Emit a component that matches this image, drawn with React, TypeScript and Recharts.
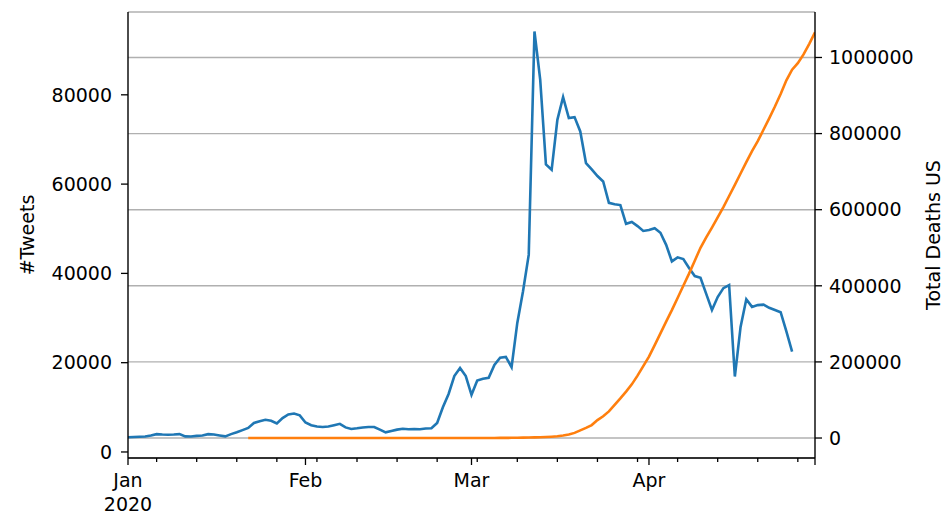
import React from 'react';
import { LineChart, Line, XAxis, YAxis, CartesianGrid, Label } from 'recharts';

// Day index 0 = 2020-01-01
const tweetsStartDay = 0;
const tweets: number[] = [
  3300, 3350, 3400, 3450, 3700, 4000, 3900, 3850, 3900, 4000,
  3500, 3450, 3600, 3700, 4000, 3900, 3700, 3500, 4000, 4400,
  4900, 5400, 6500, 6900, 7200, 7000, 6400, 7600, 8400, 8600,
  8200, 6600, 6000, 5700, 5600, 5700, 6000, 6300, 5500, 5150,
  5300, 5500, 5600, 5600, 5000, 4400, 4700, 5000, 5200, 5100,
  5150, 5100, 5250, 5300, 6500, 10000, 13000, 17000, 18800, 17000,
  12800, 16000, 16400, 16600, 19500, 21100, 21300, 19000, 28900, 36000,
  44200, 94200, 83400, 64400, 63200, 74400, 79500, 74800, 75000, 71800,
  64700, 63300, 61800, 60600, 55800, 55500, 55300, 51100, 51500, 50600,
  49500, 49700, 50100, 49100, 46400, 42700, 43600, 43200, 41200, 39400,
  39000, 35400, 31800, 34700, 36700, 37400, 16900, 28000, 34200, 32500,
  32900, 33000, 32300, 31800, 31300, 27000, 22500,
];

const deathsStartDay = 21;
const deaths: number[] = [
  1, 1, 2, 2, 5, 5, 5, 5, 5, 6,
  7, 8, 11, 11, 11, 11, 11, 11, 12, 12,
  13, 13, 13, 13, 13, 13, 13, 15, 15, 15,
  35, 35, 35, 53, 53, 59, 60, 62, 70, 76,
  101, 122, 153, 221, 278, 417, 537, 605, 959, 1300,
  1700, 2200, 2700, 3500, 4600, 6400, 9000, 13500, 20000, 26500,
  34000, 47000, 57000, 70000, 87000, 104000, 122000, 141000, 164000, 189000,
  214000, 244000, 275000, 306000, 336000, 368000, 400000, 432000, 466000, 500000,
  527000, 553000, 580000, 607000, 636000, 665000, 695000, 725000, 754000, 780000,
  810000, 840000, 871000, 904000, 940000, 968000, 985000, 1008000, 1036000, 1066000,
];

const lastDay = 120;
const majorTicks: number[] = [0, 31, 60, 91, 120];
const majorLabels: string[] = ['Jan\n2020', 'Feb', 'Mar', 'Apr', ''];
const minorTicks: number[] = [5, 12, 19, 26, 33, 40, 47, 54, 61, 68, 75, 82, 89, 96, 103, 110, 117];
const leftTicks: number[] = [0, 20000, 40000, 60000, 80000];
const rightTicks: number[] = [0, 200000, 400000, 600000, 800000, 1000000];

const rows = Array.from({ length: lastDay + 1 }, (_, d) => ({
  day: d,
  tweets: d >= tweetsStartDay && d - tweetsStartDay < tweets.length ? tweets[d - tweetsStartDay] : undefined,
  deaths: d >= deathsStartDay && d - deathsStartDay < deaths.length ? deaths[d - deathsStartDay] : undefined,
}));

const allXTicks = [...majorTicks, ...minorTicks].sort((a, b) => a - b);

const FONT = "'DejaVu Sans', sans-serif";

const XTick = (props: any) => {
  const { x, y, payload } = props;
  const v = payload.value;
  const mi = majorTicks.indexOf(v);
  const isMajor = mi >= 0;
  const label = isMajor ? majorLabels[mi] : '';
  return (
    <g>
      <line x1={x} x2={x} y1={y} y2={y + (isMajor ? 7 : 4)} stroke="#000" strokeWidth={1.3} />
      {label
        ? label.split('\n').map((t, i) => (
            <text key={i} x={x} y={y + 29 + i * 23.5} textAnchor="middle" fontSize={19} fontFamily={FONT} fill="#000">
              {t}
            </text>
          ))
        : null}
    </g>
  );
};

const LeftLabel = (p: any) => {
  const vb = p.viewBox;
  const cx = vb.x + 27;
  const cy = vb.y + vb.height / 2;
  return (
    <text x={cx} y={cy} transform={`rotate(-90, ${cx}, ${cy})`} textAnchor="middle" dominantBaseline="central" fontSize={19} fontFamily={FONT} fill="#000">
      #Tweets
    </text>
  );
};

const RightLabel = (p: any) => {
  const vb = p.viewBox;
  const cx = vb.x + 118;
  const cy = vb.y + vb.height / 2;
  return (
    <text x={cx} y={cy} transform={`rotate(-90, ${cx}, ${cy})`} textAnchor="middle" dominantBaseline="central" fontSize={19} fontFamily={FONT} fill="#000">
      Total Deaths US
    </text>
  );
};

export default function App() {
  return (
    <div style={{ position: 'absolute', left: 0, top: 0, background: '#fff', fontFamily: FONT }}>
      <LineChart width={947} height={518} data={rows} margin={{ top: 12, right: 0, bottom: 0, left: 0 }}>
        <CartesianGrid xAxisId="main" yAxisId="right" vertical={false} stroke="#b0b0b0" strokeWidth={1.4} />
        <XAxis
          xAxisId="main"
          dataKey="day"
          type="number"
          domain={[0, lastDay]}
          allowDataOverflow
          ticks={allXTicks}
          interval={0}
          tickSize={0}
          tickMargin={0}
          tickLine={false}
          tick={<XTick />}
          height={60}
          axisLine={{ stroke: '#000', strokeWidth: 1.4 }}
        />
        <XAxis
          xAxisId="top"
          dataKey="day"
          type="number"
          orientation="top"
          domain={[0, lastDay]}
          allowDataOverflow
          tick={false}
          tickLine={false}
          height={0}
          axisLine={{ stroke: '#000', strokeWidth: 1.4 }}
        />
        <YAxis
          yAxisId="left"
          orientation="left"
          type="number"
          domain={[-1350, 98550]}
          allowDataOverflow
          ticks={leftTicks}
          interval={0}
          width={128}
          tickSize={7}
          tickMargin={9}
          tick={{ fontSize: 19, fill: '#000', fontFamily: FONT }}
          tickLine={{ stroke: '#000', strokeWidth: 1.3 }}
          axisLine={{ stroke: '#000', strokeWidth: 1.4 }}
        >
          <Label content={<LeftLabel />} />
        </YAxis>
        <YAxis
          yAxisId="right"
          orientation="right"
          type="number"
          domain={[-52500, 1119500]}
          allowDataOverflow
          ticks={rightTicks}
          interval={0}
          width={132}
          tickSize={7}
          tickMargin={7}
          tick={{ fontSize: 19, fill: '#000', fontFamily: FONT }}
          tickLine={{ stroke: '#000', strokeWidth: 1.3 }}
          axisLine={{ stroke: '#000', strokeWidth: 1.4 }}
        >
          <Label content={<RightLabel />} />
        </YAxis>
        <Line
          xAxisId="main"
          yAxisId="left"
          type="linear"
          dataKey="tweets"
          stroke="#1f77b4"
          strokeWidth={2.6}
          dot={false}
          activeDot={false}
          isAnimationActive={false}
        />
        <Line
          xAxisId="top"
          yAxisId="right"
          type="linear"
          dataKey="deaths"
          stroke="#ff7f0e"
          strokeWidth={2.6}
          dot={false}
          activeDot={false}
          isAnimationActive={false}
        />
      </LineChart>
    </div>
  );
}
